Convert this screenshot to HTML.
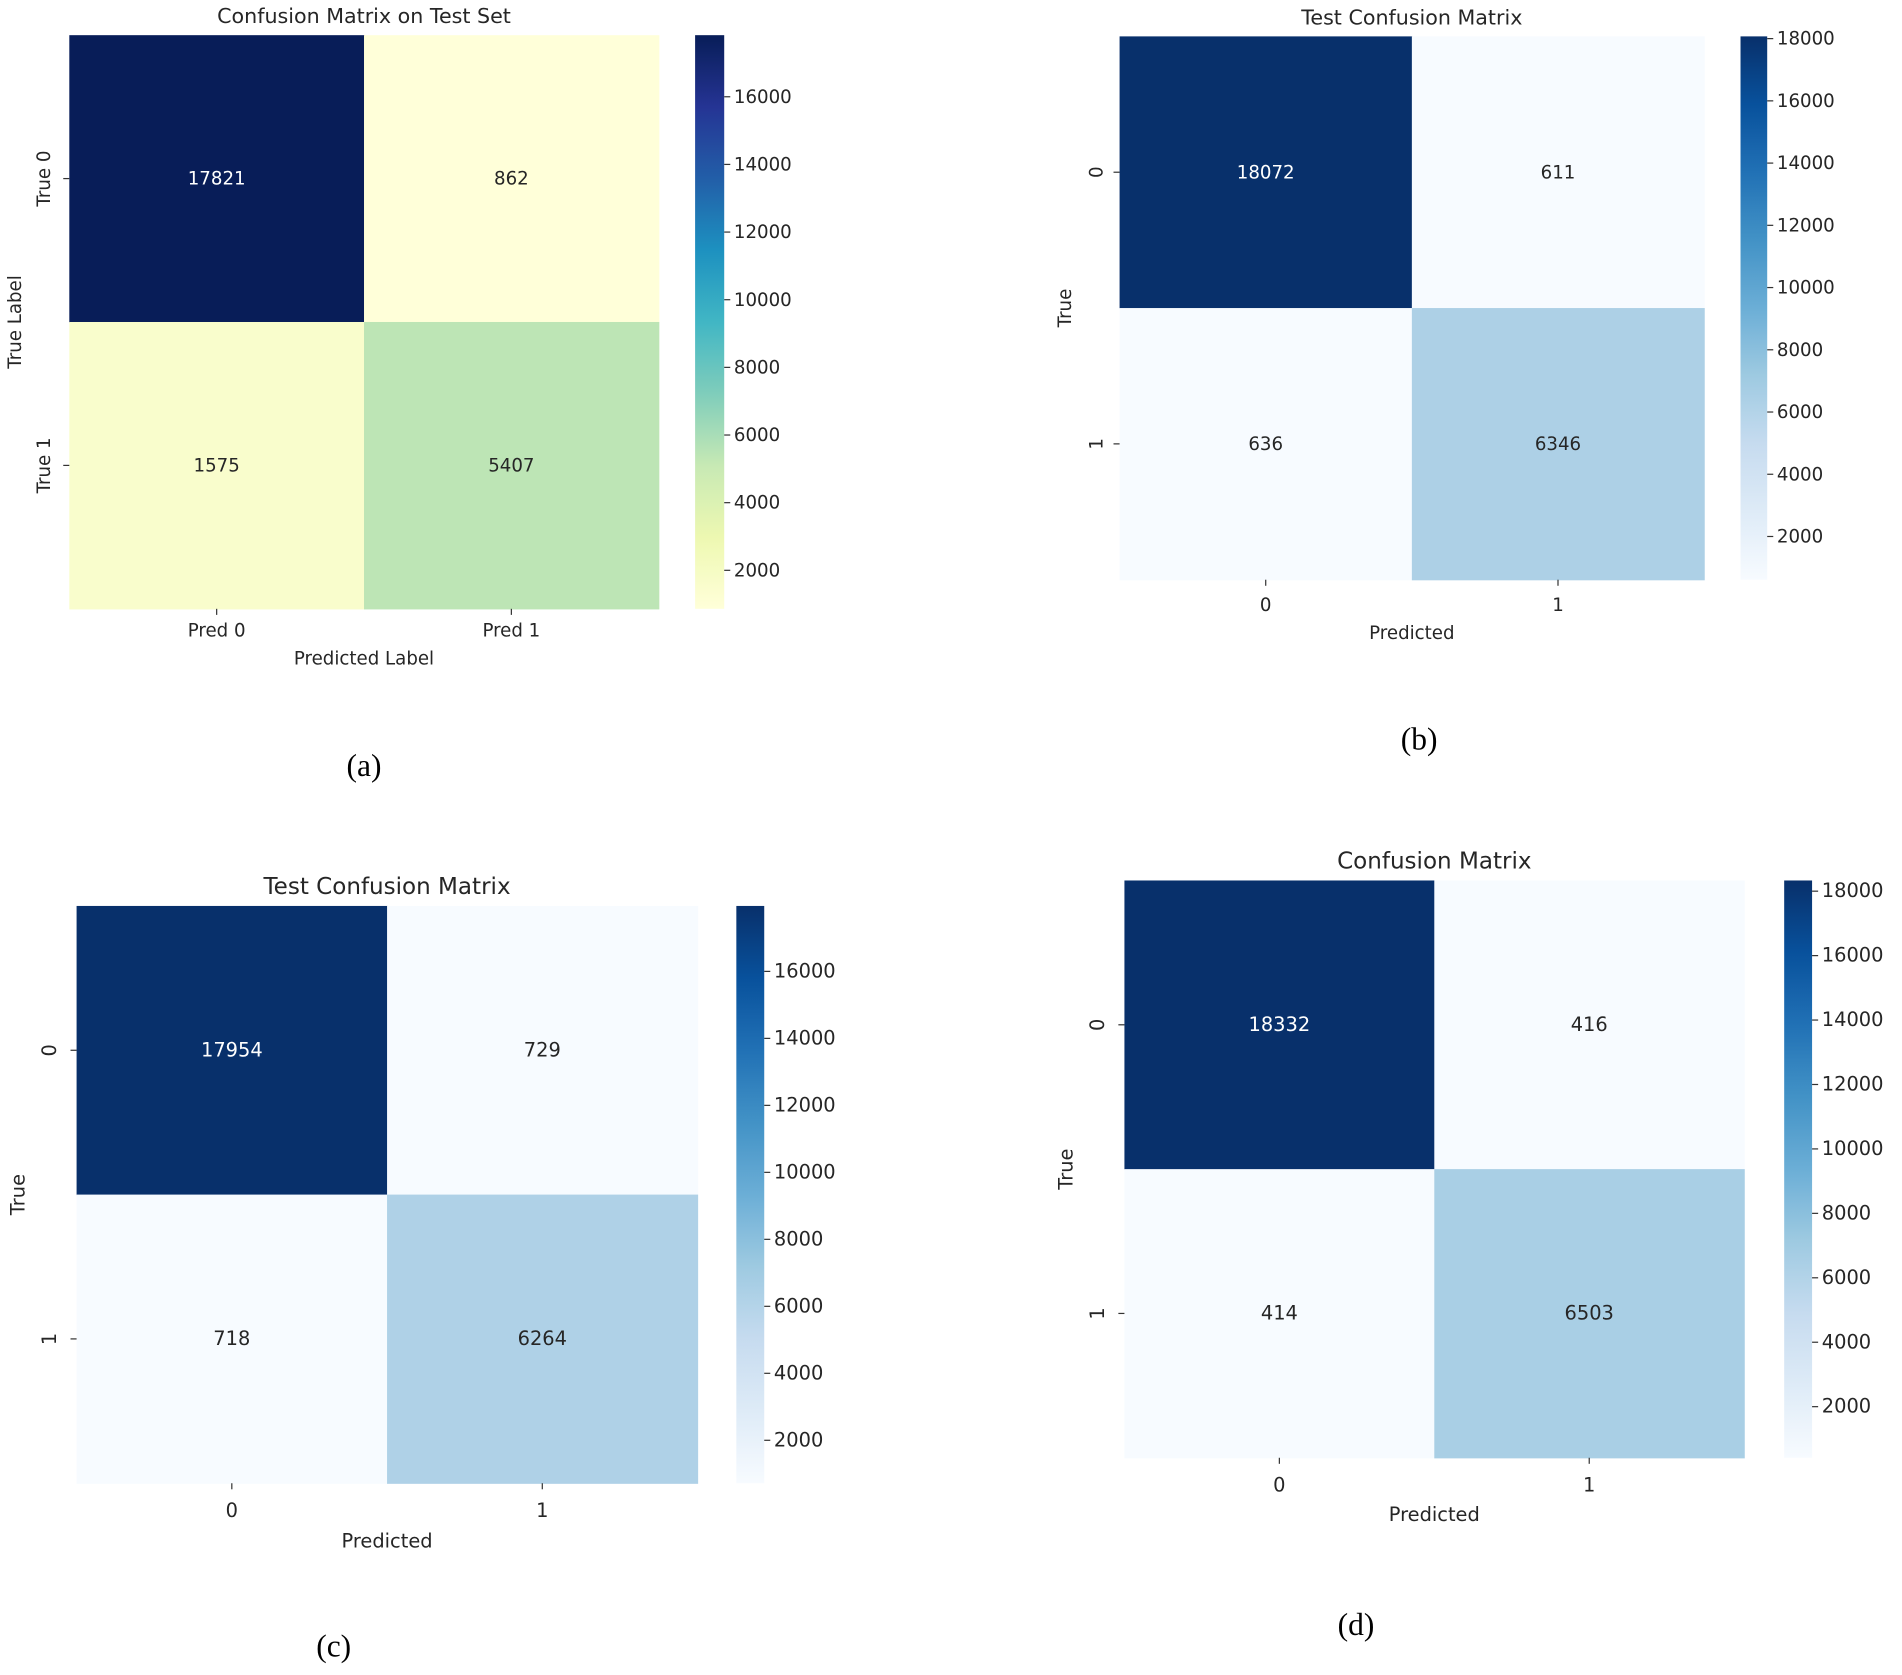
<!DOCTYPE html>
<html><head><meta charset="utf-8"><style>
html,body{margin:0;padding:0;background:#fff}
svg text{font-family:"DejaVu Sans","Liberation Sans",sans-serif;fill:#262626}
</style></head><body>
<svg id="fig" width="1902" height="1670" viewBox="0 0 1568 1377" xmlns="http://www.w3.org/2000/svg"></svg>
<script>
// ---- data ----
const panelIds = ['a','b','c','d'];
const valuesA = [[17821, 862],[1575, 5407]];
const valuesB = [[18072, 611],[636, 6346]];
const valuesC = [[17954, 729],[718, 6264]];
const valuesD = [[18332, 416],[414, 6503]];
const xTicksA = ['Pred 0','Pred 1'];
const yTicksA = ['True 0','True 1'];
const xTicks01 = ['0','1'];
const yTicks01 = ['0','1'];
const cbTicksA = [2000,4000,6000,8000,10000,12000,14000,16000];
const cbTicksB = [2000,4000,6000,8000,10000,12000,14000,16000,18000];
const cbTicksC = [2000,4000,6000,8000,10000,12000,14000,16000];
const cbTicksD = [2000,4000,6000,8000,10000,12000,14000,16000,18000];

const YlGnBu=['#ffffd9','#edf8b1','#c7e9b4','#7fcdbb','#41b6c4','#1d91c0','#225ea8','#253494','#081d58'];
const Blues=['#f7fbff','#deebf7','#c6dbef','#9ecae1','#6baed6','#4292c6','#2171b5','#08519c','#08306b'];
function hex(h){return [1,3,5].map(i=>parseInt(h.substr(i,2),16));}
function cmap(stops,t){t=Math.max(0,Math.min(1,t));const f=t*(stops.length-1);const i=Math.min(Math.floor(f),stops.length-2);const r=f-i;const a=hex(stops[i]),b=hex(stops[i+1]);return 'rgb('+a.map((v,k)=>Math.round(v+(b[k]-v)*r)).join(',')+')';}
const NS='http://www.w3.org/2000/svg';
const svg=document.getElementById('fig');
function el(tag,attrs,parent,txt){const e=document.createElementNS(NS,tag);for(const k in attrs)e.setAttribute(k,attrs[k]);if(txt!==undefined)e.textContent=txt;(parent||svg).appendChild(e);return e;}

const panels=[
 {id:'a',vals:valuesA,xt:xTicksA,yt:yTicksA,cb:cbTicksA,cm:YlGnBu,x0:57,x1:543,y0:29,y1:502,cbx:573,cbw:24,title:'Confusion Matrix on Test Set',ty:19,tfs:17,xl:'Predicted Label',yl:'True Label',ylx:17,ytx:41,xty:525,xly:548,fs:15,cap:'(a)',capx:300,capy:640},
 {id:'b',vals:valuesB,xt:xTicks01,yt:yTicks01,cb:cbTicksB,cm:Blues,x0:923,x1:1405,y0:30,y1:478,cbx:1435,cbw:22,title:'Test Confusion Matrix',ty:20,tfs:17,xl:'Predicted',yl:'True',ylx:883,ytx:909,xty:504,xly:527,fs:15,cap:'(b)',capx:1170,capy:618},
 {id:'c',vals:valuesC,xt:xTicks01,yt:yTicks01,cb:cbTicksC,cm:Blues,x0:63,x1:575,y0:747,y1:1223,cbx:607,cbw:23,title:'Test Confusion Matrix',ty:737,tfs:19,xl:'Predicted',yl:'True',ylx:20,ytx:46,xty:1251,xly:1276,fs:16,cap:'(c)',capx:275,capy:1366},
 {id:'d',vals:valuesD,xt:xTicks01,yt:yTicks01,cb:cbTicksD,cm:Blues,x0:927,x1:1438,y0:726,y1:1202,cbx:1471,cbw:23,title:'Confusion Matrix',ty:716,tfs:19,xl:'Predicted',yl:'True',ylx:884,ytx:910,xty:1230,xly:1254,fs:16,cap:'(d)',capx:1118,capy:1348}
];

panels.forEach(p=>{
  const g=el('g',{});
  
  
  const flat=p.vals.flat();const vmin=Math.min(...flat),vmax=Math.max(...flat);
  const norm=v=>(v-vmin)/(vmax-vmin);
  const cw=(p.x1-p.x0)/p.vals[0].length, ch=(p.y1-p.y0)/p.vals.length;
  p.vals.forEach((row,r)=>row.forEach((v,c)=>{
    const rect=el('rect',{x:p.x0+c*cw,y:p.y0+r*ch,width:cw+0.5,height:ch+0.5,fill:cmap(p.cm,norm(v))},g);
    
    
    const t=el('text',{x:p.x0+(c+0.5)*cw,y:p.y0+(r+0.5)*ch+5,'text-anchor':'middle','font-size':p.fs},g,String(v));
    t.style.fill=norm(v)>0.5?'#ffffff':'#262626';
    
    
  }));
  // x ticks
  p.xt.forEach((lab,i)=>{
    const x=p.x0+(i+0.5)*cw;
    el('line',{x1:x,x2:x,y1:p.y1,y2:p.y1+5,stroke:'#333','stroke-width':1},g);
    const t=el('text',{x:x,y:p.xty,'text-anchor':'middle','font-size':p.fs},g,lab);
    
    
  });
  p.yt.forEach((lab,i)=>{
    const y=p.y0+(i+0.5)*ch;
    el('line',{x1:p.x0-5,x2:p.x0,y1:y,y2:y,stroke:'#333','stroke-width':1},g);
    const t=el('text',{x:p.ytx,y:y,'text-anchor':'middle','font-size':p.fs,transform:'rotate(-90 '+p.ytx+' '+y+')'},g,lab);
    
    
  });
  const tt=el('text',{x:(p.x0+p.x1)/2,y:p.ty,'text-anchor':'middle','font-size':p.tfs},g,p.title);
  
  
  const xl=el('text',{x:(p.x0+p.x1)/2,y:p.xly,'text-anchor':'middle','font-size':p.fs},g,p.xl);
  
  
  const ym=(p.y0+p.y1)/2;
  const yl=el('text',{x:p.ylx,y:ym,'text-anchor':'middle','font-size':p.fs,transform:'rotate(-90 '+p.ylx+' '+ym+')'},g,p.yl);
  
  
  // colorbar
  const gid='grad'+p.id;
  const defs=el('defs',{},g);
  const lg=el('linearGradient',{id:gid,x1:0,y1:1,x2:0,y2:0},defs);
  for(let i=0;i<=32;i++){el('stop',{offset:(i/32),'stop-color':cmap(p.cm,i/32)},lg);}
  const cb=el('rect',{x:p.cbx,y:p.y0,width:p.cbw,height:p.y1-p.y0,fill:'url(#'+gid+')'},g);
  
  
  const cy=v=>p.y1-(v-vmin)/(vmax-vmin)*(p.y1-p.y0);
  p.cb.forEach(v=>{
    const y=cy(v);
    el('line',{x1:p.cbx+p.cbw,x2:p.cbx+p.cbw+5,y1:y,y2:y,stroke:'#333','stroke-width':1},g);
    const t=el('text',{x:p.cbx+p.cbw+8,y:y+5,'font-size':p.fs},g,String(v));
    
    
  });
  const cap=el('text',{x:p.capx,y:p.capy,'text-anchor':'middle','font-size':26},g,p.cap);
  cap.style.fontFamily='"Liberation Serif",serif';cap.style.fill='#000';
  
  
});
</script>
</body></html>
